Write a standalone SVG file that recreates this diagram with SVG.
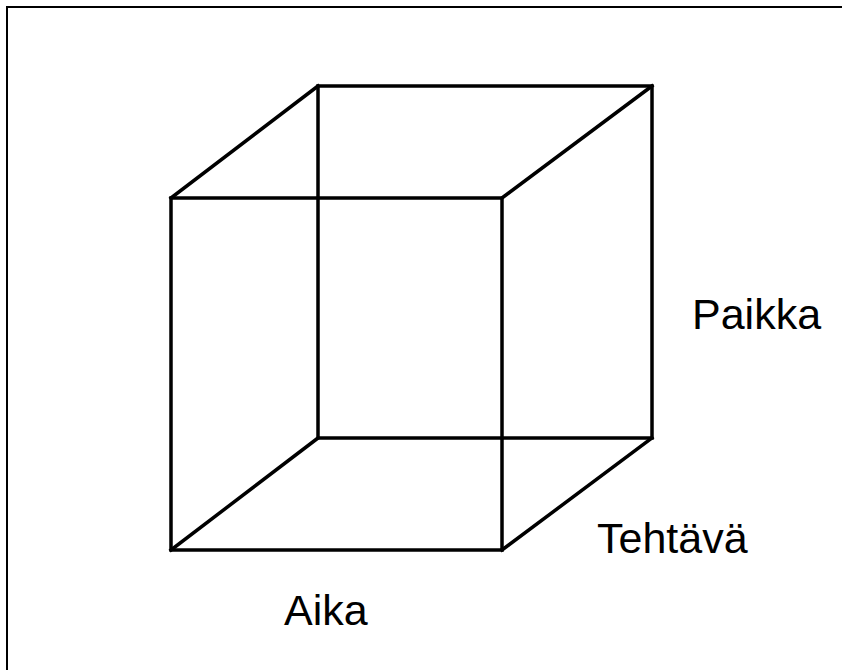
<svg xmlns="http://www.w3.org/2000/svg" width="842" height="670" viewBox="0 0 842 670">
<style>
.f{stroke:#000;stroke-width:2;fill:none}
.c{stroke:#000;stroke-width:3.5;fill:none;stroke-linejoin:miter;stroke-linecap:square}
.t{font-family:"Liberation Sans",Arial,sans-serif;font-size:43px;fill:#000}
</style>
<rect width="842" height="670" fill="#fff"/>
<g id="frame">
<path class="f" d="M7,672 V7 H844"/>
</g>
<g id="cube">
<rect class="c" x="318" y="86" width="334" height="352"/>
<rect class="c" x="171" y="198" width="331" height="352"/>
<path class="c" d="M171,198 L318,86 M502,198 L652,86 M171,550 L318,438 M502,550 L652,438"/>
</g>
<g id="labels">
<text class="t" x="692" y="329">Paikka</text>
<text class="t" x="597" y="553">Tehtävä</text>
<text class="t" x="284" y="625">Aika</text>
</g>
</svg>
